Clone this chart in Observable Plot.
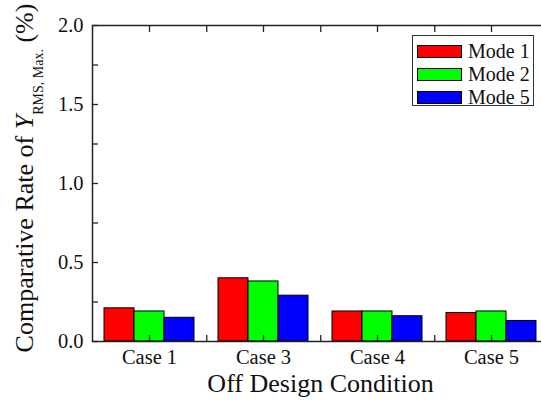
<!DOCTYPE html>
<html>
<head>
<meta charset="utf-8">
<script src="https://cdn.jsdelivr.net/npm/d3@7"></script>
<script src="https://cdn.jsdelivr.net/npm/@observablehq/plot@0.6"></script>
<style>
  html, body { margin: 0; padding: 0; background: #fff; }
  #wrap { position: relative; width: 541px; height: 401px; overflow: hidden; font-family: "Liberation Serif", "DejaVu Serif", serif; }
  #wrap svg { max-width: none !important; font-family: "Liberation Serif", serif !important; }
  #wrap svg text { font-family: "Liberation Serif", serif; font-variant-numeric: normal; }
  #legend { position: absolute; left: 412px; top: 35px; width: 122px; height: 71px; border: 1px solid #333; background: #fff; box-sizing: border-box; }
  .row { position: absolute; left: 4px; height: 14px; display: flex; align-items: center; }
  .sw { width: 45px; height: 13px; border: 1px solid #000; box-sizing: border-box; }
  .lb { margin-left: 6px; font-size: 20px; line-height: 14px; color: #111; font-family: "Liberation Serif", serif; }
</style>
</head>
<body>
<div id="wrap"></div>
<script>
const cases = ["Case 1", "Case 3", "Case 4", "Case 5"];
const modes = ["Mode 1", "Mode 2", "Mode 5"];
const mode1 = [0.21, 0.40, 0.19, 0.18];
const mode2 = [0.19, 0.38, 0.19, 0.19];
const mode5 = [0.15, 0.29, 0.16, 0.13];
const colors = ["#ff0000", "#00ff00", "#0000ff"];
const yLabelTicks = [0, 0.5, 1.0, 1.5, 2.0];
const yAllTicks = [0, 0.25, 0.5, 0.75, 1.0, 1.25, 1.5, 1.75, 2.0];
const xTitle = "Off Design Condition";

const series = [mode1, mode2, mode5];
const data = [];
cases.forEach((c, i) => modes.forEach((m, j) => data.push({case: c, mode: m, value: series[j][i]})));

const W = 549, ML = 91, MR = 0;
const facetW = (W - ML - MR) / cases.length;
const ink = "#222";

const chart = Plot.plot({
  width: W,
  height: 401,
  marginLeft: ML,
  marginRight: MR,
  marginTop: 25,
  marginBottom: 60,
  style: {fontFamily: "'Liberation Serif', serif", background: "#fff", overflow: "visible", maxWidth: "none"},
  fx: {domain: cases, padding: 0, label: null},
  x: {domain: modes, paddingInner: 0, paddingOuter: 0.36, axis: null},
  y: {domain: [0, 2], axis: null},
  color: {domain: modes, range: colors},
  marks: [
    Plot.barY(data, {fx: "case", x: "mode", y: "value", fill: "mode", stroke: "#000", strokeWidth: 1}),
    Plot.axisY(yAllTicks, {anchor: "left", tickSize: -6, text: null, label: null, stroke: ink, strokeWidth: 1.3}),
    Plot.axisY(yAllTicks, {anchor: "right", tickSize: -6, text: null, label: null, stroke: ink, strokeWidth: 1.3}),
    Plot.axisY(yLabelTicks, {anchor: "left", tickSize: 0, tickPadding: 9, tickFormat: d3.format(".1f"), fontSize: 20.5, fill: "#111", label: null}),
    Plot.axisFx({anchor: "bottom", tickSize: -6, text: null, stroke: ink, strokeWidth: 1.3, label: null}),
    Plot.axisFx({anchor: "bottom", tickSize: -6, text: null, stroke: ink, strokeWidth: 1.3, label: null, dx: facetW / 2}),
    Plot.axisFx({anchor: "top", tickSize: -6, text: null, stroke: ink, strokeWidth: 1.3, label: null}),
    Plot.axisFx({anchor: "top", tickSize: -6, text: null, stroke: ink, strokeWidth: 1.3, label: null, dx: facetW / 2}),
    Plot.axisFx({anchor: "bottom", tickSize: 0, tickPadding: 8, fontSize: 20.5, fill: "#111", label: null}),
    Plot.frame({facet: "super", stroke: ink, strokeWidth: 1.5}),
    Plot.text([xTitle], {facet: "super", frameAnchor: "bottom", dy: 42, fontSize: 26, fill: "#111", lineAnchor: "middle"})
  ]
});

const wrap = document.getElementById("wrap");
wrap.appendChild(chart);

// y-axis title with italic Y and subscript
const svg = d3.select(chart);
const t = svg.append("text")
  .attr("transform", "translate(33,178) rotate(-90)")
  .attr("text-anchor", "middle")
  .attr("font-size", 26)
  .attr("fill", "#111")
  .attr("font-family", "'Liberation Serif', serif");
t.append("tspan").text("Comparative Rate of ");
t.append("tspan").attr("font-style", "italic").text("Y");
t.append("tspan").attr("font-size", 14).attr("dy", 10).text("RMS, Max.");
t.append("tspan").attr("dy", -10).text(" (%)");

// legend
const lg = document.createElement("div");
lg.id = "legend";
modes.forEach((m, i) => {
  const r = document.createElement("div");
  r.className = "row";
  r.style.top = (8 + i * 23) + "px";
  const s = document.createElement("div");
  s.className = "sw";
  s.style.background = colors[i];
  const l = document.createElement("span");
  l.className = "lb";
  l.textContent = m;
  r.appendChild(s); r.appendChild(l);
  lg.appendChild(r);
});
wrap.appendChild(lg);
</script>
</body>
</html>
